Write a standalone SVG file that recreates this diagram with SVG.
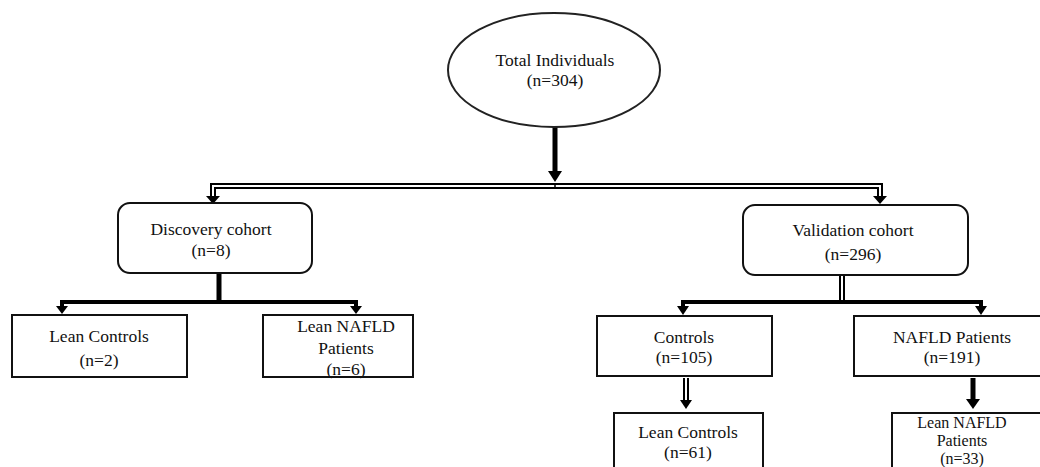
<svg xmlns="http://www.w3.org/2000/svg" width="1040" height="467" viewBox="0 0 1040 467">
<style>
text{font-family:'Liberation Serif','Times New Roman','DejaVu Serif',serif;font-size:17.5px;fill:#111;text-anchor:middle}
.small{font-size:16px}
.box{fill:#fff;stroke:#111;stroke-width:2}
.thick{fill:none;stroke:#000;stroke-width:5}
.bar{fill:none;stroke:#000;stroke-width:4}
.dblo{fill:none;stroke:#000;stroke-width:6}
.dbli{fill:none;stroke:#fff;stroke-width:2}
.head{fill:#000}
</style>
<rect width="1040" height="467" fill="#fff"/>
<g id="connectors">
  <line class="thick" x1="555" y1="127" x2="555" y2="172"/>
  <polygon class="head" points="548,171 562,171 555,182"/>
  <path class="dblo" d="M213,198 V186 H880 V198"/>
  <path class="dbli" d="M213,198 V186 H880 V198"/>
  <line x1="555" y1="183" x2="555" y2="189" stroke="#000" stroke-width="1.5"/>
  <polygon class="head" points="206,196 220,196 213,204"/>
  <polygon class="head" points="873,196 887,196 880,204"/>
  <line class="thick" x1="219" y1="273" x2="219" y2="302"/>
  <path class="bar" d="M62,308 V302 H356 V308"/>
  <polygon class="head" points="56,306 68,306 62,314"/>
  <polygon class="head" points="350,306 362,306 356,314"/>
  <path class="dblo" d="M842,275 V300" stroke-width="5"/>
  <path class="dbli" d="M842,275 V300" stroke-width="1.5"/>
  <path class="bar" d="M683,308 V302 H981 V308"/>
  <polygon class="head" points="677,306 689,306 683,315"/>
  <polygon class="head" points="975,306 987,306 981,315"/>
  <path class="dblo" d="M686,378 V402" stroke-width="5"/>
  <path class="dbli" d="M686,378 V402" stroke-width="1.5"/>
  <polygon class="head" points="680,400 692,400 686,409"/>
  <line class="thick" x1="973" y1="378" x2="973" y2="400"/>
  <polygon class="head" points="966,399 980,399 973,409"/>
</g>
<g id="total">
  <ellipse cx="554" cy="70" rx="106" ry="57" fill="#fff" stroke="#222" stroke-width="2"/>
  <text x="555" y="66">Total Individuals</text>
  <text x="555" y="86">(n=304)</text>
</g>
<g id="discovery">
  <rect class="box" x="118" y="203" width="194" height="70" rx="12"/>
  <text x="211" y="235">Discovery cohort</text>
  <text x="211" y="256">(n=8)</text>
</g>
<g id="validation">
  <rect class="box" x="743" y="205" width="225" height="70" rx="12"/>
  <text x="853" y="236">Validation cohort</text>
  <text x="853" y="260">(n=296)</text>
</g>
<g id="lean-controls-discovery">
  <rect class="box" x="12" y="315" width="175" height="62"/>
  <text x="99" y="342">Lean Controls</text>
  <text x="99" y="366">(n=2)</text>
</g>
<g id="lean-nafld-discovery">
  <rect class="box" x="263" y="315" width="150" height="62"/>
  <text x="346" y="332">Lean NAFLD</text>
  <text x="346" y="354">Patients</text>
  <text x="346" y="375">(n=6)</text>
</g>
<g id="controls">
  <rect class="box" x="597" y="316" width="175" height="60"/>
  <text x="684" y="343">Controls</text>
  <text x="684" y="363">(n=105)</text>
</g>
<g id="nafld-patients">
  <rect class="box" x="854" y="316" width="200" height="60"/>
  <text x="952" y="343">NAFLD Patients</text>
  <text x="952" y="363">(n=191)</text>
</g>
<g id="lean-controls-validation">
  <rect class="box" x="614" y="413" width="149" height="70"/>
  <text x="688" y="438">Lean Controls</text>
  <text x="688" y="458">(n=61)</text>
</g>
<g id="lean-nafld-validation">
  <rect class="box" x="892" y="413" width="160" height="70"/>
  <text class="small" x="962" y="428">Lean NAFLD</text>
  <text class="small" x="962" y="446">Patients</text>
  <text class="small" x="962" y="464">(n=33)</text>
</g>
</svg>
